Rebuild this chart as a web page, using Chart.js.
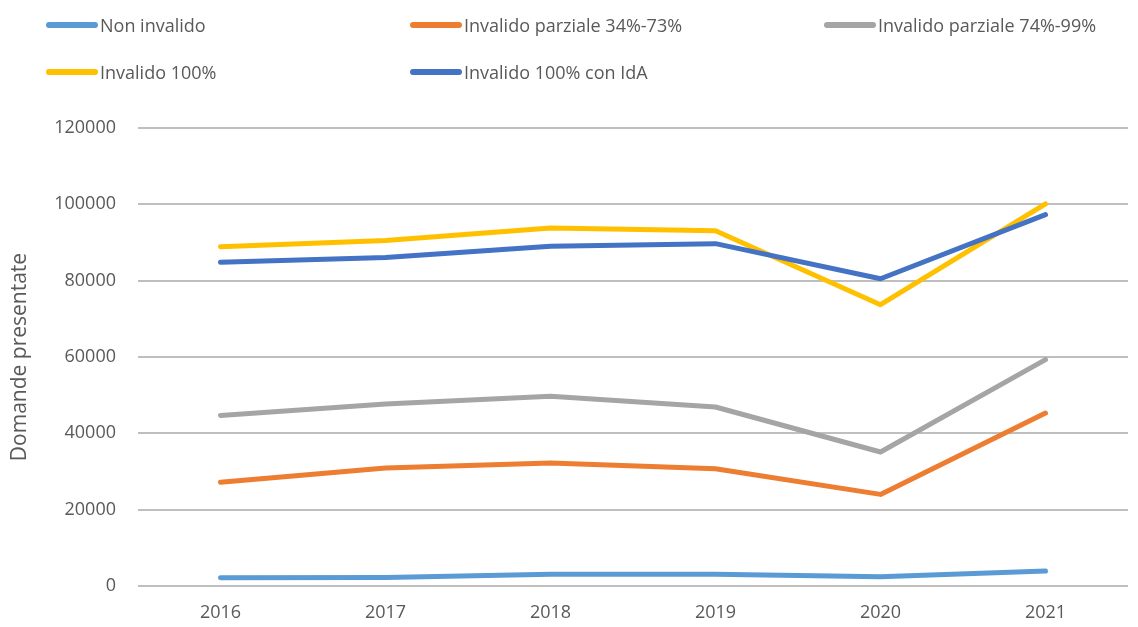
<!DOCTYPE html>
<html>
<head>
<meta charset="utf-8">
<script src="https://cdn.jsdelivr.net/npm/chart.js@4"></script>
<style>
  html, body { margin:0; padding:0; background:#fff; }
  #wrap { position:relative; width:1138px; height:627px; }
  canvas { position:absolute; left:0; top:0; }
  .leg { position:absolute; font-family:"Open Sans", sans-serif; font-size:18px; color:#595959; white-space:nowrap; display:flex; align-items:center; }
  .leg span.sw { display:inline-block; width:52px; height:6px; border-radius:3px; margin-right:2px; }
</style>
</head>
<body>
<div id="wrap">
  <canvas id="c" width="1138" height="627"></canvas>
  <div id="legend"></div>
</div>
<script>
const categories = ['2016', '2017', '2018', '2019', '2020', '2021'];
const seriesNames = ['Non invalido', 'Invalido parziale 34%-73%', 'Invalido parziale 74%-99%', 'Invalido 100%', 'Invalido 100% con IdA'];
const nonInvalido = [2150, 2200, 3100, 3100, 2400, 3900];
const parziale3473 = [27200, 30900, 32200, 30700, 24000, 45300];
const parziale7499 = [44700, 47700, 49700, 46900, 35100, 59300];
const invalido100 = [88900, 90500, 93800, 93100, 73700, 100100];
const invalido100IdA = [84800, 86100, 89000, 89700, 80500, 97300];
const yTicks = [0, 20000, 40000, 60000, 80000, 100000, 120000];
const yTitle = 'Domande presentate';

const colors = ['#5B9BD5', '#ED7D31', '#A5A5A5', '#FFC000', '#4472C4'];
const values = [nonInvalido, parziale3473, parziale7499, invalido100, invalido100IdA];

// HTML legend (Excel-like grid)
const legPos = [[46, 25], [410, 25], [824, 25], [46, 72], [410, 72]];
const legEl = document.getElementById('legend');
seriesNames.forEach((n, i) => {
  const d = document.createElement('div');
  d.className = 'leg';
  d.style.left = legPos[i][0] + 'px';
  d.style.top = (legPos[i][1] - 12) + 'px';
  d.style.height = '24px';
  const sw = document.createElement('span');
  sw.className = 'sw';
  sw.style.background = colors[i];
  d.appendChild(sw);
  d.appendChild(document.createTextNode(n));
  legEl.appendChild(d);
});

new Chart(document.getElementById('c'), {
  type: 'line',
  data: {
    labels: categories,
    datasets: seriesNames.map((n, i) => ({
      label: n,
      data: values[i],
      borderColor: colors[i],
      backgroundColor: colors[i],
      borderWidth: 5,
      pointRadius: 0,
      tension: 0,
      borderCapStyle: 'round',
      borderJoinStyle: 'round',
      order: seriesNames.length - i
    }))
  },
  options: {
    responsive: false,
    animation: false,
    layout: { padding: { top: 128, right: 10, left: 0, bottom: 0 } },
    plugins: { legend: { display: false }, tooltip: { enabled: false } },
    scales: {
      x: {
        offset: true,
        grid: { display: false, drawTicks: false },
        border: { display: false },
        ticks: { color: '#595959', font: { family: 'Open Sans', size: 18 }, padding: 16, maxRotation: 0 },
        afterFit: s => { s.height = 41; }
      },
      y: {
        min: 0, max: 120000,
        afterBuildTicks: s => { s.ticks = yTicks.map(v => ({ value: v })); },
        grid: { color: '#BFBFBF', lineWidth: 2, drawTicks: false },
        border: { display: false },
        ticks: { color: '#595959', font: { family: 'Open Sans', size: 18 }, padding: 22, callback: v => String(v) },
        title: { display: true, text: yTitle, color: '#595959', font: { family: 'Open Sans', size: 21 }, padding: { top: 7, bottom: 0 } },
        afterFit: s => { s.width = 138; }
      }
    }
  }
});
</script>
</body>
</html>
